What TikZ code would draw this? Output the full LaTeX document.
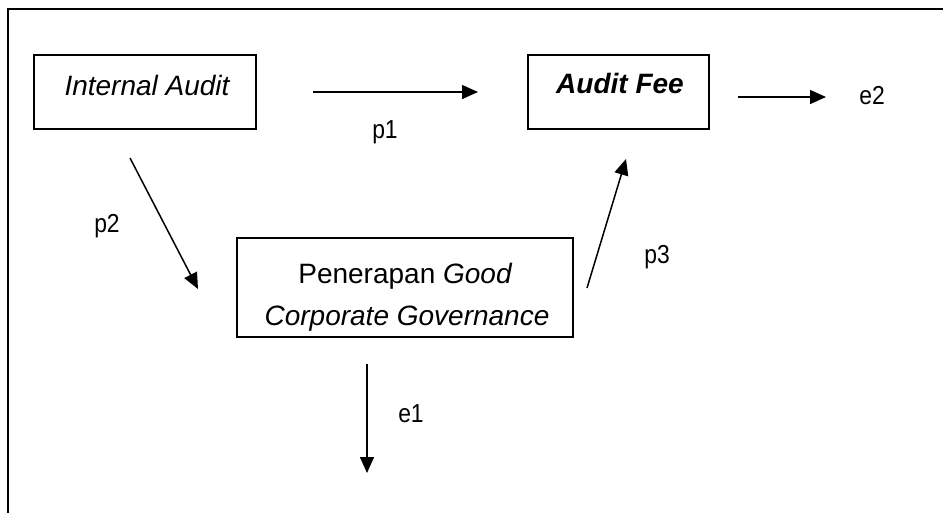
\documentclass[tikz,border=0pt]{standalone}
\usepackage{fontspec}
\setmainfont{Liberation Sans}
\newfontfamily\lblfont[FakeStretch=0.88]{Liberation Sans}
\usetikzlibrary{arrows.meta}
\begin{document}
\begin{tikzpicture}[x=1pt,y=-1pt,
  box/.style={draw,line width=1.5pt,inner sep=0pt},
  boxtext/.style={anchor=base,inner sep=0pt,font=\fontsize{28}{32}\selectfont},
  lbl/.style={anchor=base,inner sep=0pt,font=\lblfont\fontsize{26}{30}\selectfont},
  arr/.style={line width=1.5pt,-{Triangle[length=16pt,width=14pt]}}]
\useasboundingbox (0,0) rectangle (943,512);
\draw[line width=2pt] (8,513) -- (8,9) -- (944,9);
% boxes
\node[box,minimum width=222pt,minimum height=74pt] (ia) at (145,92) {};
\node[boxtext] (iat) at (147,95) {\itshape Internal Audit};
\node[box,minimum width=181pt,minimum height=74pt] (af) at (618.5,92) {};
\node[boxtext] (aft) at (620,93) {\bfseries\itshape Audit Fee};
\node[box,minimum width=336pt,minimum height=99pt] (gcg) at (405,287.5) {};
\node[boxtext] (gcg1) at (405,283) {Penerapan \itshape Good};
\node[boxtext] (gcg2) at (407,325) {\itshape Corporate Governance};
% connector end points
\coordinate (p1s) at (313,92);
\coordinate (p1e) at (478,92);
\coordinate (e2s) at (738,97);
\coordinate (e2e) at (826,97);
\coordinate (p2s) at (130,158);
\coordinate (p2e) at (198,289);
\coordinate (p3s) at (587,288);
\coordinate (p3e) at (626,159);
\coordinate (e1s) at (367,364);
\coordinate (e1e) at (367,473);
\draw[arr] (p1s) -- (p1e);
\draw[arr] (e2s) -- (e2e);
\draw[arr] (p2s) -- (p2e);
\draw[arr] (p3s) -- (p3e);
\draw[arr] (e1s) -- (e1e);
% labels
\node[lbl] (lp1) at (385,138) {p1};
\node[lbl] (lp2) at (107,232) {p2};
\node[lbl] (lp3) at (657,263) {p3};
\node[lbl] (le1) at (411,422) {e1};
\node[lbl] (le2) at (872,104) {e2};
\end{tikzpicture}
\end{document}
